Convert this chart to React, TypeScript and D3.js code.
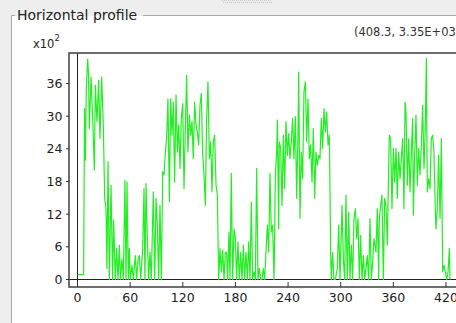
import React from "react";
import * as d3 from "d3";

// Horizontal profile: position (pixels) and intensity (in units of 10^2)
const profileX: number[] = [
  0, 6, 7, 8, 9, 10, 11.6, 12.5, 13.5, 15.4, 17.3, 19.2, 20.3, 22.2, 24.1, 25.6, 27.5, 29.4, 31, 32.5,
  33.6, 34.8, 36.3, 38.2, 40.1, 41.2, 43.1, 44.6, 46.2, 47.7, 48.8, 50.7, 52.2, 54.1, 55.3, 56.4, 57.9, 59.1, 60.2, 62.1,
  63.6, 65.9, 67.4, 69, 70.5, 72, 74.3, 75.8, 76.9, 78.1, 79.6, 81.1, 82.6, 84.1, 86.4, 88, 89.5, 91, 92.5, 94,
  95.5, 97.1, 98.6, 100.1, 101.6, 103.1, 104.7, 106.2, 107.7, 109.2, 110.7, 112.3, 113.8, 115.3, 116.8, 118.3, 119.9, 121.4, 122.9, 124.4,
  125.9, 127.5, 129, 130.5, 132, 133.5, 135.1, 136.6, 138.1, 139.6, 141.1, 142.6, 144.2, 145.7, 147.2, 148.7, 150.3, 151.8, 153.3, 154.8,
  156.3, 157.9, 159.4, 160.9, 162.4, 163.9, 165.5, 167, 168.5,
  170, 171, 172.7, 173.8, 175.3, 176.8, 178.4, 179.9, 181.4, 182.9, 184.4, 186, 187.5, 189, 190.5, 192, 193.6, 195.1, 196.6, 198.1,
  199.6, 201.2, 202.7, 204.2, 205.7, 207.2, 208.8, 210.3, 211.8, 213.3, 214.8, 216.4, 217.9, 219.4, 220.9, 222.4, 224, 225.5, 227, 227.8,
  229.3, 230, 231.6, 233.1, 234.6, 236.1, 237.6, 239.2, 240.7, 242.2, 243.7, 245.2, 246.7, 248.3, 249.8, 251.3, 252.1, 253.6, 255.1, 256.6,
  258.1, 259.7, 261.2, 262.7, 264.2, 265.7, 267.3, 268.8, 270.3, 271.8, 273.3, 274.9, 276.4, 277.9, 279.4, 281, 282.5, 284, 285.5, 287,
  287.8, 288.5, 289.3, 290.8, 292.3, 293.9, 296.1, 297.7, 299.2, 301.5, 303, 304.5, 306, 307.5, 309.1, 310.6, 312.1, 313.6, 315.1, 316.7,
  318.2, 319.7, 321.2, 322.7, 324.3, 325.8, 327.3, 328.8, 330.3, 331.8, 333.4, 334.9, 336.4, 337.9,
  340.2, 341.7, 343.3, 344, 345.5, 347, 348.6, 350.1, 351.6, 353.1, 354.3, 355.4, 356.9, 358.4, 360, 361.5, 363, 364.5, 366, 367.6,
  369.1, 370.6, 372.1, 373.3, 374.4, 375.9, 377.4, 379, 380.5, 382, 382.8, 384.3, 385.8, 387.3, 388.8, 390.4, 391.9, 393.4, 394.9, 396.4,
  397.6, 398.7, 400.2, 401.8, 403.3, 404.8, 406.3, 407.8, 408.6, 410.1, 411.6, 413.2, 414.7, 416.2, 417.7, 419.2, 420.8, 422.3, 423.8, 424.5,
];

const profileY: number[] = [
  0.9, 0.9, 0.9, 31.4, 21.9, 35, 40.5, 38, 27.7, 37.2, 29.6, 20.1, 35.7, 29.0, 36.6, 25.9, 37.2, 28.4, 14.9, 13.0,
  2.0, 21.6, 0, 17.3, 0, 10.9, 0, 5.7, 0, 6.3, 0, 3.8, 0, 18.2, 0, 17.9, 0, 5.7, 0, 2.6,
  0, 4.4, 0, 3.8, 4.4, 0, 5.7, 16.7, 0, 17.6, 7.5, 0, 5.0, 0, 16.1, 0, 14.9, 10.0, 0, 13.6,
  0, 19.8, 19.2, 23.4, 25.9, 33.2, 14.3, 33.2, 26.5, 32.6, 17.9, 33.9, 23.4, 28.4, 20.4, 29.6, 32.3, 16.7, 27.7, 37.5,
  23.4, 30.2, 26.5, 29.0, 22.2, 32.6, 28.4, 27.1, 24.7, 32.0, 34.2, 23.4, 19.2, 13.6, 29.6, 36.3, 22.2, 25.3, 16.1, 25.3,
  26.5, 17.3, 15.5, 0, 5.7, 1.4, 5.4, 0, 5.0,
  5.0, 0, 8.7, 0, 19.5, 0, 9.3, 7.5, 0, 6.9, 0, 5.0, 0, 6.3, 0, 5.0, 0, 6.9, 0, 14.2,
  0, 1.4, 0, 20.4, 0, 2.0, 0, 0, 2.0, 0, 5.0, 10.0, 5.0, 19.5, 8.7, 10.0, 0, 19.2, 23.4, 29.3,
  9.3, 25.3, 24.1, 13.6, 26.5, 16.7, 29.0, 22.8, 26.8, 22.2, 25.3, 29.6, 22.2, 29.9, 14.9, 26.5, 38.1, 11.2, 23.4, 18.5,
  34.5, 36.3, 25.3, 33.2, 22.2, 24.7, 17.9, 27.7, 14.9, 23.4, 21.0, 22.8, 22.2, 29.6, 24.1, 31.4, 27.1, 30.8, 24.7, 26.5,
  16.1, 5.0, 0, 5.0, 0, 0, 2.0, 10.0, 0, 13.6, 3.8, 0, 15.5, 0, 12.4, 0, 6.3, 0, 11.2, 13.0,
  7.5, 11.2, 0, 8.1, 0, 4.4, 0, 2.0, 4.4, 0, 11.2, 0, 3.2, 7.5,
  5.0, 13.0, 0, 11.2, 13.6, 15.5, 0, 14.9, 13.6, 6.3, 17.3, 26.5, 25.9, 13.0, 24.1, 17.9, 24.1, 14.9, 23.4, 18.5,
  22.2, 25.9, 13.0, 32.6, 30.8, 17.3, 25.9, 16.1, 23.4, 29.6, 11.8, 22.8, 30.2, 17.3, 24.1, 19.2, 24.7, 32.0, 20.4, 27.7,
  40.6, 16.1, 18.5, 16.7, 25.9, 26.5, 23.4, 13.0, 9.3, 13.0, 22.8, 11.2, 25.9, 1.4, 2.6, 1.4, 0, 1.4, 5.7, 0,
];

const xTicks: number[] = [0, 60, 120, 180, 240, 300, 360, 420];
const yTicks: number[] = [0, 6, 12, 18, 24, 30, 36];

const W = 456;
const H = 323;
const FONT = "'DejaVu Sans', Verdana, sans-serif";

export default function App() {
  const frameLeft = 69;
  const frameTop = 53;
  const frameBottom = 287;
  const frameRight = 470;

  const x = d3.scaleLinear().domain([0, 420]).range([77.5, 446]);
  const y = d3.scaleLinear().domain([0, 36]).range([279.5, 83.5]);

  const pts = profileX.map((v, i) => [v, profileY[i]] as [number, number]);
  const line = d3
    .line<[number, number]>()
    .x((d) => x(d[0]))
    .y((d) => y(d[1]))
    .curve(d3.curveLinear);

  const gripDots: number[] = d3.range(222, 272, 2);

  return (
    <svg
      width={W}
      height={H}
      style={{ position: "absolute", left: 0, top: 0, display: "block" }}
      fontFamily={FONT}
    >
      <defs>
        <clipPath id="plotClip">
          <rect x={frameLeft} y={frameTop} width={frameRight - frameLeft} height={frameBottom - frameTop} />
        </clipPath>
      </defs>
      {/* panel background */}
      <rect x={0} y={0} width={W} height={H} fill="#eeeeee" />
      {/* grip dots */}
      {gripDots.map((gx) => (
        <g key={gx}>
          <rect x={gx} y={0} width={1} height={1} fill="#c8c8c8" />
          <rect x={gx + 1} y={2} width={1} height={1} fill="#c8c8c8" />
        </g>
      ))}
      {/* white inner area */}
      <rect x={12} y={16} width={W - 12} height={H - 16} fill="#ffffff" />
      {/* etched border */}
      <line x1={11.5} y1={15.5} x2={11.5} y2={H} stroke="#a8a8a8" strokeWidth={1} />
      <line x1={11.5} y1={15.5} x2={W} y2={15.5} stroke="#a8a8a8" strokeWidth={1} />
      <rect x={15} y={6} width={128} height={15} fill="#eeeeee" />
      <rect x={15} y={16} width={128} height={6} fill="#ffffff" />
      <text x={17} y={19.5} fontSize={14} fill="#222">Horizontal profile</text>

      {/* readout (runs past the right edge, as in the panel) */}
      <text x={354} y={36} fontSize={11.5} fill="#333">(408.3, 3.35E+03)</text>

      {/* axis unit */}
      <text x={33} y={47.5} fontSize={11.5} fill="#222">x10</text>
      <text x={54.5} y={41} fontSize={8.5} fill="#222">2</text>

      {/* profile line */}
      <g clipPath="url(#plotClip)">
        <line x1={frameLeft} y1={y(0)} x2={frameRight} y2={y(0)} stroke="#222" strokeWidth={1} />
        <line x1={x(0)} y1={frameTop} x2={x(0)} y2={frameBottom} stroke="#222" strokeWidth={1} />
        <path d={line(pts) ?? ""} fill="none" stroke="#22ee22" strokeWidth={1.2} strokeLinejoin="round" />
      </g>

      {/* frame */}
      <rect
        x={frameLeft}
        y={frameTop}
        width={frameRight - frameLeft}
        height={frameBottom - frameTop}
        fill="none"
        stroke="#4a4a4a"
        strokeWidth={1.6}
      />

      {/* y ticks */}
      {yTicks.map((t) => (
        <g key={"y" + t}>
          <line x1={frameLeft - 3} y1={y(t)} x2={frameLeft} y2={y(t)} stroke="#333" strokeWidth={1} />
          <text x={62.5} y={y(t)} dy="0.36em" textAnchor="end" fontSize={12.5} fill="#222">
            {t}
          </text>
        </g>
      ))}

      {/* x ticks */}
      {xTicks.map((t) => (
        <g key={"x" + t}>
          <line x1={x(t)} y1={frameBottom - 5} x2={x(t)} y2={frameBottom} stroke="#333" strokeWidth={1} />
          <text x={x(t)} y={301.5} textAnchor="middle" fontSize={12.5} fill="#222">
            {t}
          </text>
        </g>
      ))}
    </svg>
  );
}
